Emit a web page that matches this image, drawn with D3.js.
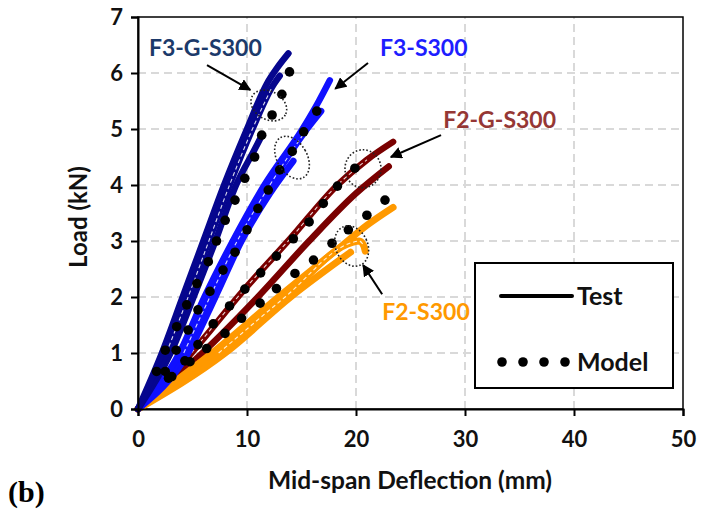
<!DOCTYPE html>
<html>
<head>
<meta charset="utf-8">
<script src="https://cdn.jsdelivr.net/npm/d3@7"></script>
<style>
  html, body { margin: 0; padding: 0; background: #fff; }
  svg { display: block; }
  text { font-family: Lato, "Open Sans", sans-serif; font-weight: 700; }
</style>
</head>
<body>
<svg id="chart" width="703" height="510"></svg>
<script>
// Load (kN) vs. mid-span deflection (mm) — tests and model predictions

const xTicks = [0, 10, 20, 30, 40, 50];
const yTicks = [0, 1, 2, 3, 4, 5, 6, 7];

// Test curves, F3-G-S300 (three specimens)
const f3gTest1X = [0, 2.2, 4.1, 6.0, 7.9, 10.0, 11.8, 12.8, 13.8];
const f3gTest1Y = [0, 1, 2, 3, 4, 5, 5.8, 6.1, 6.35];
const f3gTest2X = [0, 2.6, 4.6, 6.5, 8.4, 10.5, 12.3, 13.0];
const f3gTest2Y = [0, 1, 2, 3, 4, 5, 5.75, 5.95];
const f3gTest3X = [0, 3.0, 5.1, 7.1, 9.0, 10.6, 11.3];
const f3gTest3Y = [0, 1, 2, 3, 4, 4.6, 4.86];

// Test curves, F3-S300
const f3Test1X = [0, 3.8, 6.1, 8.7, 11.6, 15.1, 16.6, 17.6];
const f3Test1Y = [0, 1, 2, 3, 4, 5, 5.5, 5.87];
const f3Test2X = [0, 4.2, 6.6, 9.1, 12.1, 15.5, 16.8];
const f3Test2Y = [0, 1, 2, 3, 4, 5, 5.32];
const f3Test3X = [0, 4.6, 7.1, 9.5, 12.1, 14.25];
const f3Test3Y = [0, 1, 2, 3, 3.85, 4.43];

// Test curves, F2-G-S300
const f2gTest1X = [0, 4.9, 9.6, 14.0, 18.3, 21.0, 23.4];
const f2gTest1Y = [0, 1, 2.1, 3.05, 4.0, 4.45, 4.77];
const f2gTest2X = [0, 5.9, 11.0, 15.7, 20.0, 23.0];
const f2gTest2Y = [0, 1, 2, 3, 3.85, 4.33];

// Test curves, F2-S300
const f2Test1X = [0, 6.8, 12.9, 18.6, 21.0, 23.4];
const f2Test1Y = [0, 1, 2, 2.9, 3.28, 3.6];
const f2Test2X = [0, 7.4, 13.5, 19.6, 20.3, 20.7, 20.85];
const f2Test2Y = [0, 1, 2, 2.97, 3.0, 2.92, 2.82];
const f2Test3X = [0, 8.0, 14.0, 19.5];
const f2Test3Y = [0, 1, 2, 2.8];

// Model predictions
const f3gModelX = [1.7, 2.5, 3.55, 4.47, 5.4, 6.45, 7.2, 8.0, 8.9, 9.8, 10.7, 11.35, 12.3, 13.2, 13.9];
const f3gModelY = [0.67, 1.05, 1.47, 1.86, 2.24, 2.63, 3.0, 3.37, 3.73, 4.12, 4.5, 4.89, 5.25, 5.62, 6.02];
const f3ModelX = [2.5, 3.5, 4.6, 5.5, 6.6, 7.8, 8.9, 10.0, 11.0, 11.95, 13.0, 14.15, 15.2, 16.4];
const f3ModelY = [0.67, 1.05, 1.41, 1.77, 2.1, 2.48, 2.8, 3.2, 3.58, 3.91, 4.27, 4.6, 4.95, 5.32];
const f2gModelX = [2.8, 4.3, 5.5, 6.9, 8.4, 9.8, 11.25, 12.7, 14.25, 15.7, 17.0, 18.3, 19.9];
const f2gModelY = [0.55, 0.86, 1.15, 1.52, 1.84, 2.14, 2.43, 2.73, 3.04, 3.34, 3.67, 3.98, 4.3];
const f2ModelX = [3.1, 4.77, 6.3, 7.98, 9.5, 11.2, 12.7, 14.4, 16.1, 17.8, 19.3, 21.0, 22.66];
const f2ModelY = [0.58, 0.845, 1.08, 1.35, 1.62, 1.89, 2.15, 2.42, 2.66, 2.96, 3.2, 3.46, 3.73];

const zip = (xs, ys) => xs.map((x, i) => [x, ys[i]]);

// "seam" marks the specimen curve whose trace carries a thin light seam
const testSeries = [
  { color: "#7a0000", width: 6.5, seam: 1, curves: [zip(f2gTest2X, f2gTest2Y), zip(f2gTest1X, f2gTest1Y)] },
  { color: "#ff9900", width: 7, seam: 1, curves: [zip(f2Test3X, f2Test3Y), zip(f2Test2X, f2Test2Y), zip(f2Test1X, f2Test1Y)] },
  { color: "#1010ff", width: 6.5, seam: 1, curves: [zip(f3Test3X, f3Test3Y), zip(f3Test2X, f3Test2Y), zip(f3Test1X, f3Test1Y)] },
  { color: "#06068e", width: 6.5, seam: 1, curves: [zip(f3gTest3X, f3gTest3Y), zip(f3gTest2X, f3gTest2Y), zip(f3gTest1X, f3gTest1Y)] }
];
const modelSeries = [
  zip(f3gModelX, f3gModelY), zip(f3ModelX, f3ModelY),
  zip(f2gModelX, f2gModelY), zip(f2ModelX, f2ModelY)
];

// Callout annotations: label, its anchor, arrow tail/head and the dotted ring (data units)
const callouts = [
  { text: "F3-G-S300", color: "#1c3a6a", tx: 1.0, ty: 6.3,
    arrow: [[6.33, 6.14], [10.3, 5.7]], ring: { cx: 12.0, cy: 5.42, rx: 19, ry: 14, rot: 30 } },
  { text: "F3-S300", color: "#1e1eff", tx: 22.2, ty: 6.3,
    arrow: [[21.1, 6.18], [18.1, 5.72]], ring: { cx: 14.13, cy: 4.49, rx: 15, ry: 23, rot: -30 } },
  { text: "F2-G-S300", color: "#953735", tx: 28.0, ty: 5.02,
    arrow: [[27.8, 4.89], [23.2, 4.5]], ring: { cx: 20.64, cy: 4.29, rx: 18, ry: 19, rot: 0 } },
  { text: "F2-S300", color: "#ff9900", tx: 22.4, ty: 1.59,
    arrow: [[22.4, 2.05], [20.65, 2.57]], ring: { cx: 19.6, cy: 2.91, rx: 16, ry: 21, rot: -25 } }
];

const svg = d3.select("#chart");
const x = d3.scaleLinear().domain([0, 50]).range([138, 683]);
const y = d3.scaleLinear().domain([0, 7]).range([409, 17]);

// grid
const grid = svg.append("g");
grid.selectAll(".gx").data(xTicks.slice(1, -1)).enter().append("line")
  .attr("x1", d => x(d)).attr("x2", d => x(d)).attr("y1", y(0)).attr("y2", y(7))
  .attr("stroke", "#d9d9d9").attr("stroke-width", 2).attr("stroke-dasharray", "8,5");
grid.selectAll(".gy").data(yTicks.slice(1, -1)).enter().append("line")
  .attr("x1", x(0)).attr("x2", x(50)).attr("y1", d => y(d)).attr("y2", d => y(d))
  .attr("stroke", "#d9d9d9").attr("stroke-width", 2).attr("stroke-dasharray", "8,5");

// frame
svg.append("rect").attr("x", x(0)).attr("y", y(7)).attr("width", x(50) - x(0)).attr("height", y(0) - y(7))
  .attr("fill", "none").attr("stroke", "#000").attr("stroke-width", 1.5);

// test curves
const line = d3.line().x(d => x(d[0])).y(d => y(d[1])).curve(d3.curveMonotoneX);
testSeries.forEach(s => {
  s.curves.forEach(c => {
    svg.append("path").attr("d", line(c)).attr("fill", "none")
      .attr("stroke", s.color).attr("stroke-width", s.width)
      .attr("stroke-linecap", "round").attr("stroke-linejoin", "round");
  });
  const seamCurve = s.curves[s.seam];
  svg.append("path").attr("d", line(seamCurve.slice(1, -1))).attr("fill", "none")
    .attr("stroke", "#fff").attr("stroke-opacity", 0.85).attr("stroke-width", 1.1)
    .attr("stroke-dasharray", "4,3");
});

// model points
modelSeries.forEach(pts => {
  svg.append("g").selectAll("circle").data(pts).enter().append("circle")
    .attr("cx", d => x(d[0])).attr("cy", d => y(d[1])).attr("r", 4.8).attr("fill", "#000");
});

// callouts
const defs = svg.append("defs");
defs.append("marker").attr("id", "head").attr("viewBox", "0 0 10 10")
  .attr("refX", 9).attr("refY", 5).attr("markerWidth", 6).attr("markerHeight", 6)
  .attr("orient", "auto").append("path").attr("d", "M0,0 L10,5 L0,10 Z").attr("fill", "#000");

callouts.forEach(c => {
  const r = c.ring;
  svg.append("ellipse")
    .attr("transform", `translate(${x(r.cx)},${y(r.cy)}) rotate(${r.rot})`)
    .attr("rx", r.rx).attr("ry", r.ry)
    .attr("fill", "none").attr("stroke", "#222").attr("stroke-width", 1.6).attr("stroke-dasharray", "1.6,2");
  svg.append("line")
    .attr("x1", x(c.arrow[0][0])).attr("y1", y(c.arrow[0][1]))
    .attr("x2", x(c.arrow[1][0])).attr("y2", y(c.arrow[1][1]))
    .attr("stroke", "#000").attr("stroke-width", 2).attr("marker-end", "url(#head)");
  svg.append("text").attr("x", x(c.tx)).attr("y", y(c.ty))
    .attr("fill", c.color).attr("font-size", 23).text(c.text);
});

// axes
const xAxis = svg.append("g").attr("transform", `translate(0,${y(0)})`)
  .call(d3.axisBottom(x).tickValues(xTicks).tickSize(7).tickPadding(15).tickFormat(d3.format("d")));
const yAxis = svg.append("g").attr("transform", `translate(${x(0)},0)`)
  .call(d3.axisLeft(y).tickValues(yTicks).tickSize(7).tickPadding(8).tickFormat(d3.format("d")));
[xAxis, yAxis].forEach(a => {
  a.select(".domain").attr("stroke", "#000").attr("stroke-width", 2);
  a.selectAll(".tick line").attr("stroke", "#000").attr("stroke-width", 2);
  a.selectAll(".tick text").attr("font-size", 22).attr("fill", "#111")
    .style("font-family", "Lato, sans-serif").style("font-weight", 700);
});

// axis titles
svg.append("text").attr("x", 410).attr("y", 489).attr("text-anchor", "middle")
  .attr("font-size", 24.5).attr("fill", "#111").text("Mid-span Deflection (mm)");
svg.append("text").attr("transform", `translate(87,217) rotate(-90)`).attr("text-anchor", "middle")
  .attr("font-size", 24).attr("fill", "#111").text("Load (kN)");
svg.append("text").attr("x", 8).attr("y", 502).attr("font-size", 30).attr("fill", "#000")
  .style("font-family", "'Liberation Serif', 'Times New Roman', serif").text("(b)");

// legend
const lg = svg.append("g");
lg.append("rect").attr("x", 475).attr("y", 263).attr("width", 198).attr("height", 125)
  .attr("fill", "#fff").attr("stroke", "#000").attr("stroke-width", 2);
lg.append("line").attr("x1", 501).attr("x2", 572).attr("y1", 296).attr("y2", 296)
  .attr("stroke", "#000").attr("stroke-width", 4).attr("stroke-linecap", "round");
lg.append("text").attr("x", 577).attr("y", 305).attr("font-size", 25).attr("fill", "#111").text("Test");
lg.selectAll(".md").data([0, 1, 2, 3]).enter().append("circle")
  .attr("cx", d => 502 + d * 21).attr("cy", 362).attr("r", 4.8).attr("fill", "#000");
lg.append("text").attr("x", 577).attr("y", 371).attr("font-size", 25).attr("fill", "#111").text("Model");
</script>
</body>
</html>
